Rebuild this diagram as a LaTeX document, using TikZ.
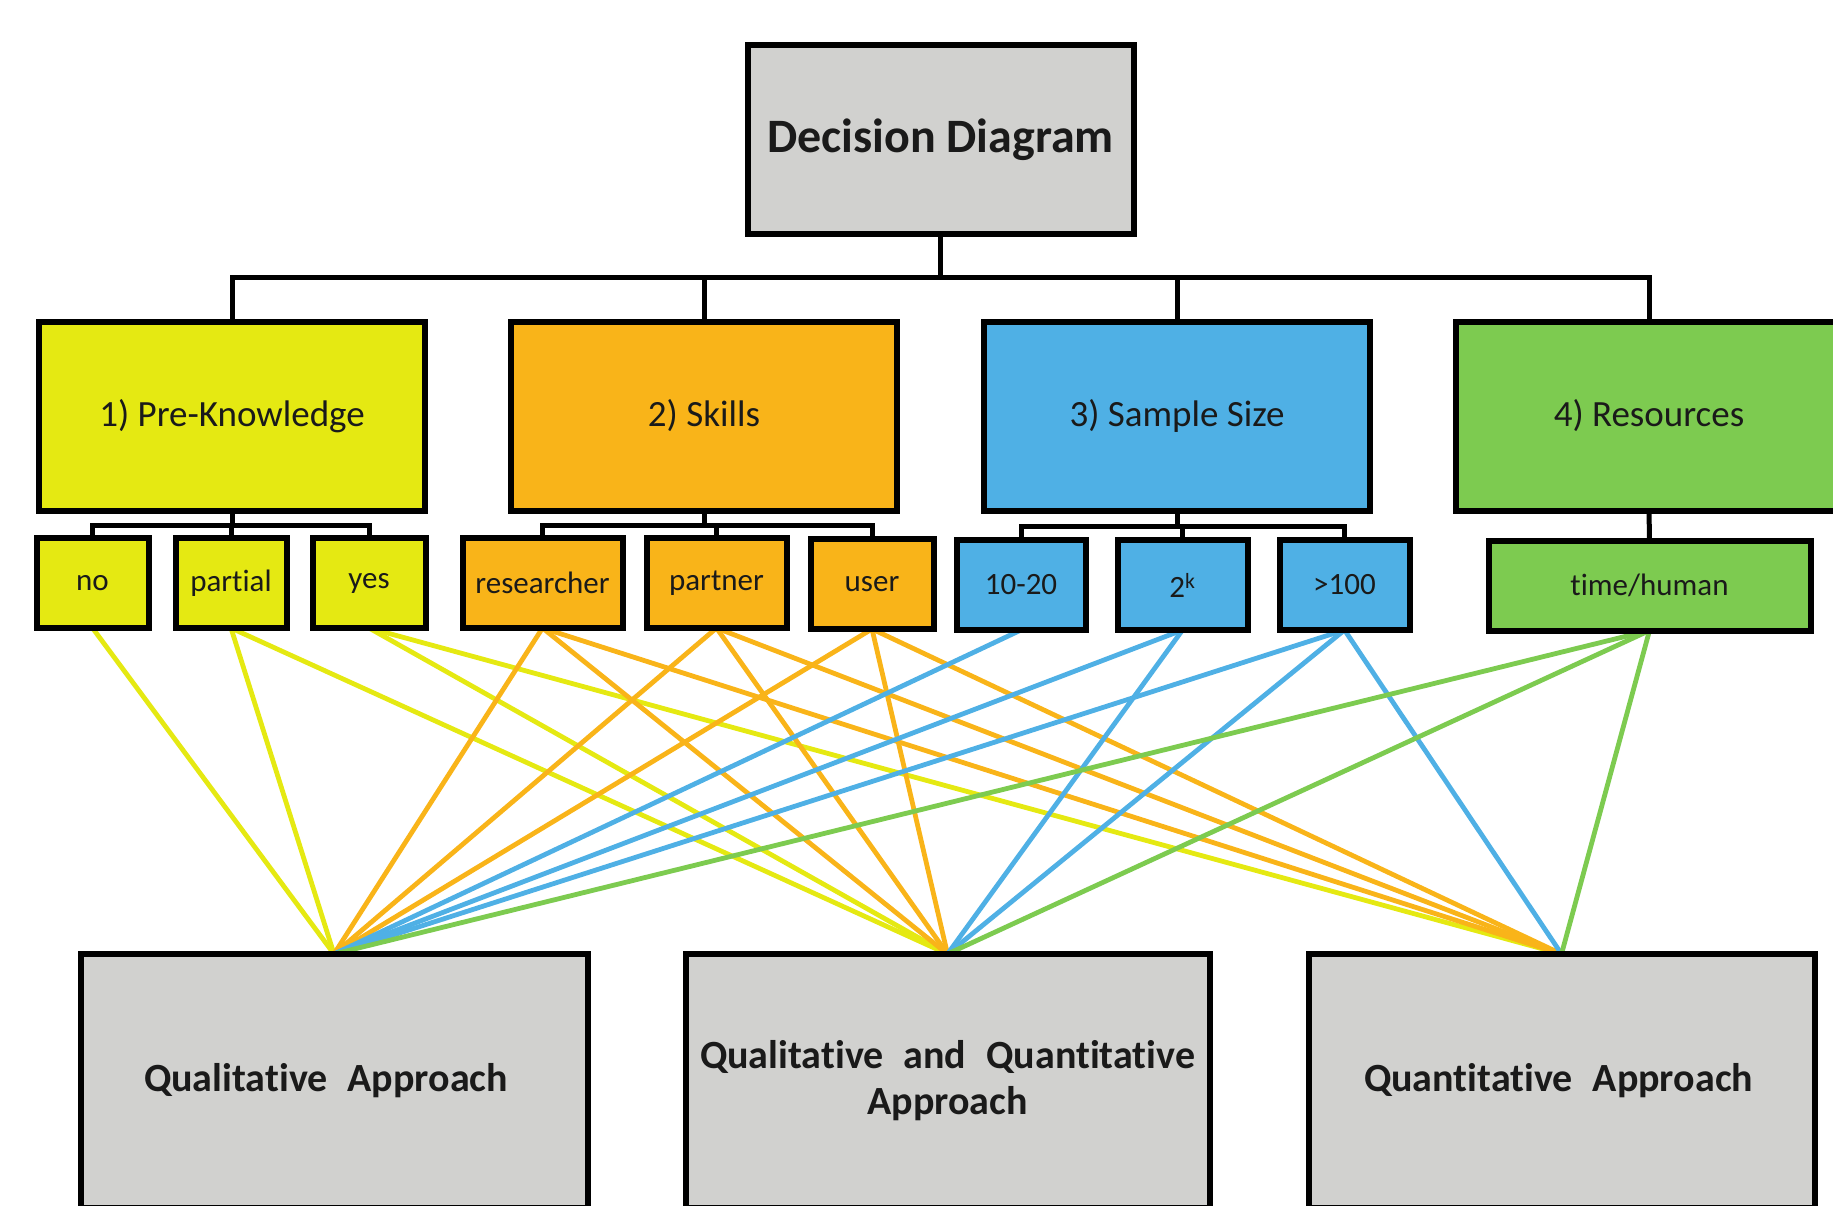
\documentclass[tikz,border=0pt]{standalone}
\usepackage{fontspec}
\setmainfont[Ligatures={NoCommon},RawFeature={-liga;-clig;-calt}]{Carlito}
\usetikzlibrary{backgrounds}
\definecolor{cyel}{HTML}{E5E912}
\definecolor{corg}{HTML}{F9B419}
\definecolor{cblu}{HTML}{4FB0E5}
\definecolor{cgrn}{HTML}{7DCB50}
\definecolor{cgry}{HTML}{D1D1CF}
\definecolor{ctxt}{HTML}{1A1A1A}
\newcommand{\wsp}{\hspace{0.5em}}
\begin{document}
\begin{tikzpicture}[x=1pt,y=-1pt,
  boxbase/.style={draw=black, line width=6pt, inner sep=0pt, outer sep=0pt,
                  align=center, text=ctxt, rectangle},
  topbox/.style={boxbase, fill=cgry, minimum width=386, minimum height=189,
                 font=\fontsize{48}{54}\selectfont\bfseries},
  catbox/.style={boxbase, minimum width=386, minimum height=189,
                 font=\fontsize{37}{44}\selectfont},
  subbox/.style={boxbase, minimum height=90, font=\fontsize{31}{36}\selectfont},
  endbox/.style={boxbase, fill=cgry, minimum height=254,
                 font=\fontsize{40}{46}\selectfont\bfseries},
  bus/.style={draw=black, line width=5pt},
  link/.style={line width=4.8pt},
  ylink/.style={link, draw=cyel},
  olink/.style={link, draw=corg},
  blink/.style={link, draw=cblu},
  glink/.style={link, draw=cgrn}]
\useasboundingbox (0,0) rectangle (1833,1206);
\clip (0,0) rectangle (1833,1206);

% top
\node[topbox] (dd) at (940.5,140) {Decision Diagram};

% categories
\node[catbox, fill=cyel] (pk) at (232,416) {1) Pre-Knowledge};
\node[catbox, fill=corg] (sk) at (704,416) {2) Skills};
\node[catbox, fill=cblu] (ss) at (1177,416) {3) Sample Size};
\node[catbox, fill=cgrn] (rs) at (1649,416) {4) Resources};

% sub boxes
\node[subbox, fill=cyel, minimum width=112] (no) at (92.5,583) {no};
\node[subbox, fill=cyel, minimum width=111] (partial) at (231,583) {partial};
\node[subbox, fill=cyel, minimum width=113] (yes) at (369,583) {yes};
\node[subbox, fill=corg, minimum width=160] (researcher) at (542.5,583) {researcher};
\node[subbox, fill=corg, minimum width=140] (partner) at (716.5,583) {partner};
\node[subbox, fill=corg, minimum width=123] (user) at (872,584) {user};
\node[subbox, fill=cblu, minimum width=129] (sa) at (1021,585) {10-20};
\node[subbox, fill=cblu, minimum width=130] (sb) at (1182.5,585) {2\textsuperscript{k}};
\node[subbox, fill=cblu, minimum width=130] (sc) at (1344.5,585) {>100};
\node[subbox, fill=cgrn, minimum width=322] (th) at (1649.5,585.5) {time/human};

% bottom boxes
\node[endbox, minimum width=507] (ql) at (334,1081) {Qualitative\wsp Approach\hspace*{16pt}};
\node[endbox, minimum width=524] (qq) at (947.5,1081) {Qualitative\wsp and\wsp Quantitative\\Approach};
\node[endbox, minimum width=506] (qn) at (1561.5,1081) {Quantitative\wsp Approach\hspace*{6pt}};

% hierarchy buses
\coordinate (b0) at (940.5,278);
\draw[bus] (dd.south) -- (b0);
\draw[bus] (pk.north) |- (b0) -| (rs.north);
\draw[bus] (sk.north) -- (sk.north |- b0);
\draw[bus] (ss.north) -- (ss.north |- b0);

\coordinate (b1) at (232,525);
\draw[bus] (pk.south) -- (b1);
\draw[bus] (no.north) |- (b1) -| (yes.north);
\draw[bus] (partial.north) -- (partial.north |- b1);

\coordinate (b2) at (704,525);
\draw[bus] (sk.south) -- (b2);
\draw[bus] (researcher.north) |- (b2) -| (user.north);
\draw[bus] (partner.north) -- (partner.north |- b2);

\coordinate (b3) at (1177,526);
\draw[bus] (ss.south) -- (b3);
\draw[bus] (sa.north) |- (b3) -| (sc.north);
\draw[bus] (sb.north) -- (sb.north |- b3);

\draw[bus] (rs.south) -- (th.north);

% connections
\begin{pgfonlayer}{background}
\draw[ylink] (no.south) -- (ql.north);
\draw[ylink] (partial.south) -- (ql.north);
\draw[ylink] (partial.south) -- (qq.north);
\draw[ylink] (yes.south) -- (qq.north);
\draw[ylink] (yes.south) -- (qn.north);
\draw[olink] (researcher.south) -- (ql.north);
\draw[olink] (researcher.south) -- (qq.north);
\draw[olink] (researcher.south) -- (qn.north);
\draw[olink] (partner.south) -- (ql.north);
\draw[olink] (partner.south) -- (qq.north);
\draw[olink] (partner.south) -- (qn.north);
\draw[olink] (user.south) -- (ql.north);
\draw[olink] (user.south) -- (qq.north);
\draw[olink] (user.south) -- (qn.north);
\draw[blink] (sa.south) -- (ql.north);
\draw[blink] (sb.south) -- (ql.north);
\draw[blink] (sb.south) -- (qq.north);
\draw[blink] (sc.south) -- (ql.north);
\draw[blink] (sc.south) -- (qq.north);
\draw[blink] (sc.south) -- (qn.north);
\draw[glink] (th.south) -- (ql.north);
\draw[glink] (th.south) -- (qq.north);
\draw[glink] (th.south) -- (qn.north);
\end{pgfonlayer}
\end{tikzpicture}
\end{document}
